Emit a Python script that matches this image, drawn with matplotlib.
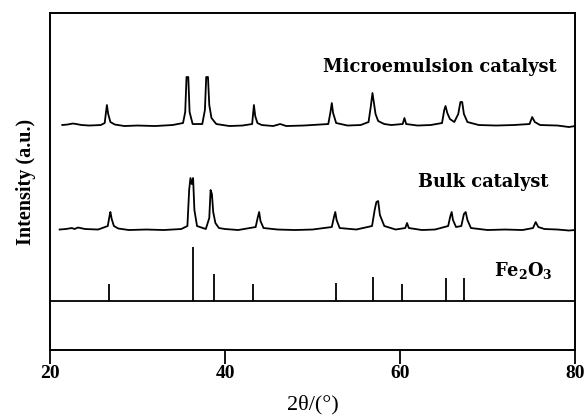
import matplotlib
matplotlib.use("Agg")
import matplotlib.pyplot as plt

plt.rcParams['mathtext.fontset'] = 'dejavuserif'

# microemulsion catalyst trace (2theta, intensity in a.u.)
micro_x = [21.4, 22.0, 22.6, 23.0, 23.6, 24.5, 25.8, 26.25, 26.4, 26.5, 26.65, 26.9, 27.4, 28.5, 30.0,
           32.0, 34.0, 35.2, 35.45, 35.6, 35.8, 35.95, 36.3, 37.4, 37.7, 37.85, 38.05, 38.2, 38.45,
           39.0, 40.5, 42.0, 43.1, 43.3, 43.45, 43.7, 44.2, 45.5, 46.3, 47.0, 49.0, 51.8, 52.05, 52.2,
           52.35, 52.7, 54.0, 55.5, 56.4, 56.65, 56.85, 57.0, 57.2, 57.5, 58.2, 59.0, 60.3, 60.5,
           60.7, 62.0, 63.5, 64.8, 65.05, 65.2, 65.4, 65.7, 66.2, 66.65, 66.9, 67.1, 67.3, 67.7,
           69.0, 71.0, 73.0, 74.8, 75.1, 75.4, 76.0, 78.0, 79.3, 80.0]
micro_y = [225, 225.5, 226.5, 226, 225, 224.5, 225, 227, 238, 245, 236, 228, 225.5, 224, 224.5,
           224, 225, 227, 238, 273, 273, 238, 226, 226, 240, 273, 273, 245, 232,
           226, 224, 224.5, 226, 245, 234, 227, 225, 224, 226, 224, 224.5, 226, 238, 247,
           237, 227, 224.5, 225, 228, 243, 257, 248, 236, 229, 226, 225, 226, 232,
           226, 224.5, 225, 227, 240, 244, 237, 231, 228, 236, 248, 248, 236, 228,
           225, 224.5, 225, 226, 233, 228, 225, 224.5, 223, 224]

# bulk catalyst trace
bulk_x = [21.1, 21.8, 22.5, 22.8, 23.2, 24.0, 25.5, 26.6, 26.8, 26.9, 27.05, 27.3, 27.8, 29.0, 31.0,
          33.0, 35.0, 35.7, 35.9, 36.05, 36.2, 36.35, 36.5, 36.8, 37.8, 38.2, 38.35, 38.5, 38.65,
          38.9, 39.3, 40.0, 41.5, 43.5, 43.75, 43.9, 44.05, 44.4, 46.0, 48.0, 50.0, 52.2, 52.45,
          52.6, 52.75, 53.1, 55.0, 56.8, 57.1, 57.3, 57.5, 57.7, 58.2, 59.5, 60.6, 60.8, 61.0,
          62.5, 64.0, 65.5, 65.75, 65.9, 66.05, 66.4, 67.0, 67.3, 67.5, 67.7, 68.1, 70.0, 72.0,
          74.0, 75.2, 75.5, 75.8, 76.5, 78.0, 79.3, 80.0]
bulk_y = [120.5, 121, 122, 121, 122.5, 121, 120.5, 124, 134, 138, 131, 124, 121.5, 120, 120.5,
          120, 121, 124, 160, 172, 166, 172, 140, 124, 121, 132, 160, 156, 138,
          127, 122, 121, 120, 123, 133, 138, 129, 122, 120.5, 120, 120.5, 123, 133,
          138, 130, 122, 120.5, 124, 140, 148, 149, 135, 124, 120.5, 122, 127, 122,
          120, 120.5, 124, 134, 138, 130, 123, 124, 136, 138, 130, 122, 120, 120.5,
          120, 122, 128, 123, 121, 120.5, 119.5, 120]

# Fe2O3 reference sticks
ref_x = [26.7, 36.3, 38.7, 43.2, 52.65, 56.9, 60.2, 65.3, 67.3]
ref_h = [16.5, 53.8, 26.5, 16.5, 17.8, 23.8, 16.5, 22.5, 22.5]
ref_base = 49.5

fig = plt.figure(figsize=(5.85, 4.15), dpi=100)
ax = fig.add_axes([0.0855, 0.1566, 0.8975, 0.812])

ax.plot(micro_x, micro_y, color='black', lw=1.3)
ax.plot(bulk_x, bulk_y, color='black', lw=1.3)
ax.axhline(ref_base, color='black', lw=1.3)
ax.vlines(ref_x, ref_base, [ref_base + h for h in ref_h], color='black', lw=1.3)

lab = dict(fontfamily='DejaVu Serif', fontweight='bold', fontsize=12.8, ha='right', va='center')
ax.text(77.9, 283, 'Microemulsion catalyst', **lab)
ax.text(77.0, 168, 'Bulk catalyst', **lab)
ax.text(77.4, 80, r'Fe$_\mathbf{2}$O$_\mathbf{3}$', **lab)

ax.set_xlim(20, 80)
ax.set_ylim(0, 337)
ax.set_xticks([20, 40, 60, 80])
ax.set_yticks([])
ax.tick_params(axis='x', direction='out', length=10, width=1.3, pad=1)
for t in ax.get_xticklabels():
    t.set_fontfamily('Liberation Serif')
    t.set_fontweight('bold')
    t.set_fontsize(14)
for s in ax.spines.values():
    s.set_linewidth(1.4)

ax.set_xlabel('2θ/(°)', fontfamily='Liberation Serif', fontsize=16, labelpad=9)
ax.set_ylabel('Intensity (a.u.)', fontfamily='Liberation Serif', fontweight='bold',
              fontsize=14.5, labelpad=10)

fig.savefig('out.png', dpi=100)
